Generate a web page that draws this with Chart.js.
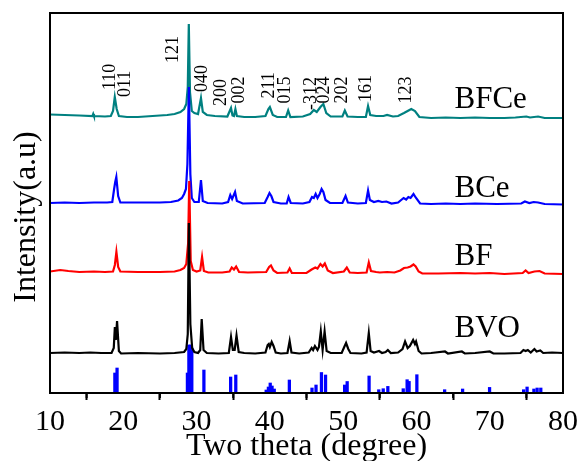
<!DOCTYPE html>
<html>
<head>
<meta charset="utf-8">
<script src="https://cdn.jsdelivr.net/npm/chart.js@4.4.1/dist/chart.umd.min.js"></script>
<style>
  body { margin: 0; background: #fff; }
  canvas { display: block; }
</style>
</head>
<body>
<canvas id="xrd" width="582" height="461"></canvas>
<script>
// XRD patterns (intensity above each trace's own baseline)

const bvoTheta = [10, 12, 14, 15.5, 17, 18.4, 18.7, 18.85, 18.98, 19.15, 19.4, 19.7, 22, 25, 27, 28.3, 28.6, 28.8, 28.95, 29.15, 29.4, 29.7,
    30.2, 30.5, 30.7, 30.95, 31.4, 33, 34.4, 34.7, 34.95, 35.2, 35.45, 35.75, 36.5, 38, 39.4, 39.7, 39.85, 40, 40.25, 40.5, 40.8,
    41.5, 42.4, 42.7, 42.95, 44, 45.3, 45.7, 45.9, 46.15, 46.5, 46.7, 46.95, 47.2, 47.47, 47.75, 48.3, 49.8, 50.15, 50.4, 50.7,
    51, 52.5, 53.2, 53.5, 53.75, 54.2, 54.9, 55.3, 55.8, 56.1, 56.5, 57.5, 58.1, 58.45, 58.8, 59.1, 59.55, 59.8, 59.95, 60.3,
    60.7, 62, 63.9, 64.3, 66.2, 66.6, 68, 70, 70.5, 72, 74.2, 74.6, 74.9, 75.2, 75.6, 76.1, 76.4, 76.9, 77.3, 78.5, 80];
const bvoCounts = [1, 1.5, 1, 1.5, 1, 1, 6, 27, 14, 33, 3, 0.5, 1, 0.5, 1, 2, 5, 20, 131, 30, 6, 2,
    1, 4, 35, 4, 1, 0.5, 1, 17, 4, 4, 18.5, 2, 1, 0.5, 1.5, 9, 10, 7, 12, 8, 1.5,
    0.5, 1, 13, 1.5, 0.5, 1.5, 6, 4, 8, 4, 7, 22.5, 4, 22.5, 3, 1, 1, 7, 11, 5,
    1, 0.5, 1.5, 21, 3, 1.5, 3, 1, 2, 4, 1, 1.5, 5, 12.5, 6, 8, 14, 10, 12.5, 3,
    0.5, 1, 2.5, 0.5, 2.5, 0.5, 1, 2.5, 0.5, 0.5, 1, 4, 3, 4, 1.5, 5, 2.5, 3.5, 1, 1.5, 1];

const bfTheta = [10, 11.4, 12.5, 14, 16, 17.5, 18.6, 18.85, 19.06, 19.3, 19.6, 22, 25, 27, 27.8, 28.3, 28.6, 28.85, 29, 29.2, 29.5,
    30, 30.5, 30.75, 31, 31.6, 33.5, 34.5, 34.8, 35.1, 35.4, 35.8, 37, 39.5, 39.9, 40.15, 40.5, 41, 42.4, 42.7, 43, 45,
    45.7, 46.2, 46.5, 46.9, 47.2, 47.5, 47.9, 48.6, 50.1, 50.5, 50.9, 52, 53.2, 53.5, 53.8, 54.5, 55, 56, 57, 57.8, 58.3,
    58.8, 59.2, 59.6, 59.9, 60.3, 60.8, 63, 66, 68, 70, 72, 74.5, 74.9, 75.3, 76.1, 76.8, 77.5, 80];
const bfCounts = [1.5, 3, 2, 1, 1.5, 1, 1.5, 8, 21, 6, 1.5, 1, 1, 1.5, 3, 5, 9, 30, 92, 12, 3,
    1.5, 2.5, 16, 2, 0.5, 0.5, 1.5, 5.5, 3.5, 6.5, 1, 0.5, 1, 6, 7.5, 2.5, 0, 0.5, 4.5, 0, 0,
    3.5, 5.5, 4.5, 9, 6.5, 9.5, 2.5, 0, 1.5, 5.5, 0.5, 0, 0.5, 10.5, 2, 1, 0.5, 1, 0.5, 2.5, 5,
    5.5, 6.5, 8.5, 6.5, 1.5, -0.5, -0.5, 0, -0.5, 0, -1, 0, 2.5, 0, 1.5, 2, -0.5, -1];

const bceTheta = [10, 12, 14, 16, 17.8, 18.5, 18.75, 18.9, 19.05, 19.3, 19.6, 22, 25, 26.5, 27.5, 28, 28.3, 28.55, 28.75, 28.95,
    29.15, 29.35, 29.7, 30.3, 30.6, 30.85, 31.5, 33.5, 34.3, 34.6, 34.85, 35.25, 35.5, 36.3, 39.3, 39.7, 39.95, 40.2, 40.5,
    41.5, 42.3, 42.55, 42.85, 44.5, 45.4, 45.75, 46, 46.25, 46.5, 46.8, 47.06, 47.3, 47.6, 48.2, 49.9, 50.33, 50.65, 52,
    53.1, 53.4, 53.65, 54.2, 54.8, 55.3, 55.9, 56.6, 57.5, 58.25, 58.6, 58.9, 59.2, 59.6, 59.9, 60.5, 62, 64, 66, 68, 71,
    74.3, 74.8, 75.4, 76, 76.6, 77.5, 80];
const bceCounts = [1, 1.5, 1, 1.5, 1.5, 2, 15, 22, 27, 8, 1.5, 1.5, 1.5, 2, 3.5, 6, 10, 15, 40, 117,
    30, 6, 2, 2, 24, 3, 1, 0.5, 2, 9, 5, 12, 3, 0.5, 1, 7, 11, 8, 2,
    0.5, 0.5, 7, 1, 0.5, 2, 7, 6, 10, 6, 10, 15, 12, 4, 1, 1, 8, 1.5, 0.5,
    1, 13.5, 4, 2, 3, 2, 2.5, 0.5, 1.5, 6, 4.5, 7, 6, 10, 6.5, 0.5, 0, 0.5, 0, 0.5, 0,
    0.5, 2.5, 1, 2, 1.5, 0, -0.5];

const bfceTheta = [10, 12, 14, 15.8, 15.9, 16, 17.5, 18.3, 18.6, 18.84, 19.1, 19.4, 20.5, 22, 24, 26, 27, 27.8, 28.3, 28.6,
    28.8, 28.94, 29.1, 29.35, 29.7, 30.2, 30.6, 30.85, 31.4, 32.5, 34.2, 34.7, 34.9, 35.1, 35.3, 35.5, 36.5, 38, 39.4,
    39.8, 40, 40.4, 41, 42.2, 42.5, 42.8, 44.5, 45.5, 46, 46.4, 46.9, 47.3, 47.7, 48.3, 49.9, 50.23, 50.6, 52, 53.1,
    53.4, 53.7, 54.5, 55.5, 56, 56.8, 57.5, 58.3, 58.8, 59.3, 59.8, 60.4, 62, 64, 66, 68, 70, 72, 73.5, 75, 75.5, 76.6,
    77.5, 80];
const bfceCounts = [2.5, 2, 1.5, 1, 3, 1, 0.5, 1, 6, 20, 8, 1, 0, 0, 1, 2, 3, 5, 8, 13,
    30, 93, 25, 6, 4, 3, 19, 5, 2, 1, 0.5, 9, 1.5, 1, 8, 1, 0, 0, 1,
    8, 10, 2, 0, 0, 6.5, 0, 0.5, 3, 7, 5, 10, 13, 4, 0.5, 0.5, 6.5, 0.5, 0, 0,
    11, 2, 1, 1, 2, 0.5, 1, 4, 6, 8, 6, 0, -1, -0.5, -1, -0.5, -1, -1, -0.5, 0.5, -0.5, 0.5,
    -1, -1];

// reference stick pattern (standard card)
const refTheta = [18.85, 19.15, 28.75, 28.95, 29.15, 29.35, 31.0, 34.65, 35.35, 39.5, 39.8, 40.05, 40.3, 40.6, 42.66, 45.75,
    46.3, 47.04, 47.6, 50.2, 50.55, 53.54, 54.86, 55.47, 56.1, 58.2, 58.73, 59.0, 60.06, 63.85, 66.3, 69.98, 74.63, 75.1,
    76.03, 76.47, 76.97];
const refCounts = [20, 25, 20, 48, 48, 45, 23, 16, 18, 3, 6, 10, 7, 4, 13, 5,
    8, 20.5, 18, 8, 11.5, 17, 3.3, 4.3, 6.6, 4.3, 13.3, 11.6, 18.3, 3.3, 4, 5.6, 3.3, 6,
    4, 5, 5];

const sampleNames = ['BVO', 'BF', 'BCe', 'BFCe'];
const xTicks = [10, 20, 30, 40, 50, 60, 70, 80];
const minorTicks = [15, 25, 35, 45, 55, 65, 75];
const peakLabels = ['110', '011', '121', '040', '200', '002', '211', '015', '-312', '024', '202', '161', '123'];

// layout: vertical stacking offsets and text anchors (data units)
const traceOffset = [39, 120, 189, 276];
const peakLabelAt = [[18.84, 303], [20.94, 296], [27.53, 330], [31.48, 301], [34.06, 287], [36.5, 289.5], [40.58, 294.5],
    [42.76, 289.5], [46.29, 283], [48.06, 289.5], [50.5, 289.5], [53.77, 291], [59.27, 289.5]];
const sampleLabelAt = [[65.19, 56.3], [65.19, 128], [65.19, 196.3], [65.19, 284.7]];
const colors = ['#000000', '#ff0000', '#0000ff', '#008080'];

const serif = '"Liberation Serif", "Times New Roman", serif';

const toPoints = (theta, counts, off) => theta.map((t, i) => ({x: t, y: counts[i] + off}));

const traces = [
    toPoints(bvoTheta, bvoCounts, traceOffset[0]),
    toPoints(bfTheta, bfCounts, traceOffset[1]),
    toPoints(bceTheta, bceCounts, traceOffset[2]),
    toPoints(bfceTheta, bfceCounts, traceOffset[3]),
];

const datasets = traces.map((pts, i) => ({
    type: 'line',
    label: sampleNames[i],
    data: pts,
    borderColor: colors[i],
    borderWidth: 2.2,
    pointRadius: 0,
    tension: 0,
    fill: false,
}));

datasets.push({
    type: 'bar',
    label: 'ref',
    data: refTheta.map((t, i) => ({x: t, y: refCounts[i]})),
    backgroundColor: '#0000ff',
    borderWidth: 0,
    barThickness: 2.6,
    grouped: false,
});

// frame, minor ticks, labels
const decor = {
    id: 'decor',
    afterDraw(chart) {
        const {ctx, chartArea: a, scales: {x, y}} = chart;
        ctx.save();
        ctx.strokeStyle = '#000';
        ctx.lineWidth = 2;
        ctx.strokeRect(a.left, a.top, a.right - a.left, a.bottom - a.top);
        minorTicks.forEach(v => {
            const px = x.getPixelForValue(v);
            ctx.beginPath();
            ctx.moveTo(px, a.bottom);
            ctx.lineTo(px, a.bottom + 5);
            ctx.stroke();
        });

        ctx.fillStyle = '#000';
        ctx.textAlign = 'left';
        ctx.textBaseline = 'alphabetic';
        ctx.font = '18px ' + serif;
        peakLabels.forEach((t, i) => {
            ctx.save();
            ctx.translate(x.getPixelForValue(peakLabelAt[i][0]), y.getPixelForValue(peakLabelAt[i][1]));
            ctx.rotate(-Math.PI / 2);
            ctx.fillText(t, 0, 0);
            ctx.restore();
        });

        ctx.font = '31px ' + serif;
        sampleNames.forEach((name, i) => {
            ctx.fillText(name, x.getPixelForValue(sampleLabelAt[i][0]), y.getPixelForValue(sampleLabelAt[i][1]));
        });

        // y axis title
        ctx.font = '32px ' + serif;
        ctx.textAlign = 'center';
        ctx.save();
        ctx.translate(35, 217);
        ctx.rotate(-Math.PI / 2);
        ctx.fillText('Intensity(a.u)', 0, 0);
        ctx.restore();
        ctx.restore();
    }
};

const ctx = document.getElementById('xrd').getContext('2d');
const xrdChart = new Chart(ctx, {
    type: 'line',
    data: {datasets: datasets},
    options: {
        responsive: false,
        animation: false,
        devicePixelRatio: 1,
        layout: {
            padding: {left: 50, top: 13, right: 17, bottom: 0}
        },
        plugins: {
            legend: {display: false},
            tooltip: {enabled: false},
        },
        scales: {
            x: {
                type: 'linear',
                min: 10,
                max: 80,
                offset: false,
                afterBuildTicks: (scale) => {
                    scale.ticks = xTicks.map(v => ({value: v}));
                },
                afterFit: (scale) => {
                    scale.height = 68;
                },
                ticks: {
                    color: '#000',
                    padding: 4,
                    maxRotation: 0,
                    autoSkip: false,
                    font: {family: serif, size: 30},
                },
                grid: {
                    drawOnChartArea: false,
                    tickLength: 7,
                    tickWidth: 2,
                    tickColor: '#000',
                },
                border: {color: '#000', width: 2},
                title: {
                    display: true,
                    text: 'Two theta (degree)',
                    color: '#000',
                    font: {family: serif, size: 32, lineHeight: 0.875},
                    padding: 0,
                },
            },
            y: {
                display: false,
                min: 0,
                max: 380,
            }
        }
    },
    plugins: [decor],
});
</script>
</body>
</html>
